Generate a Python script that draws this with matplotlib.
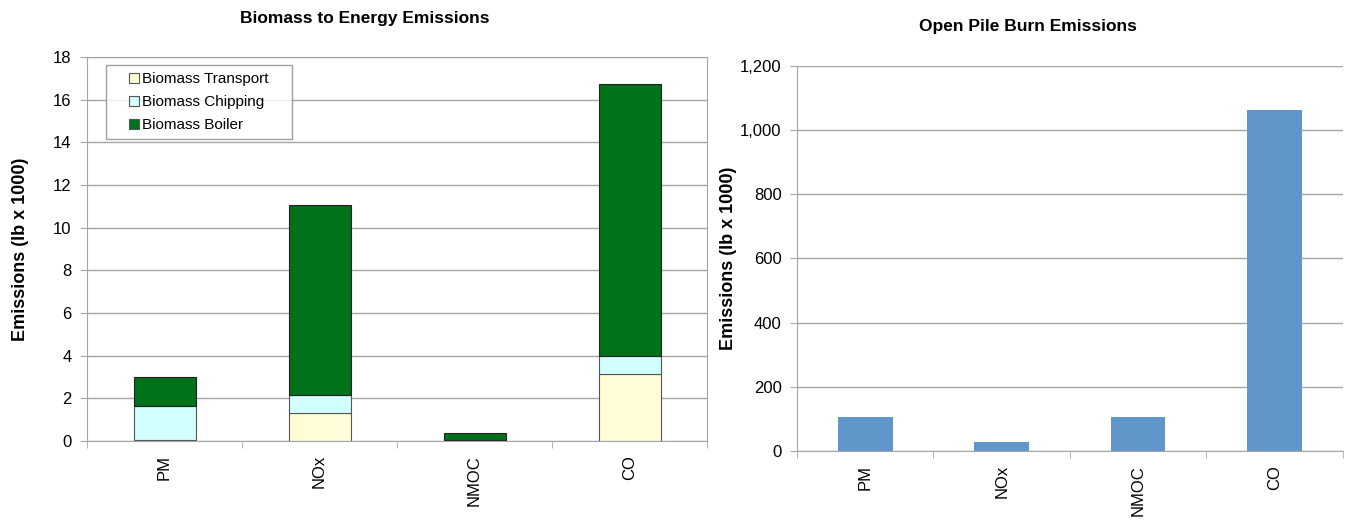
import matplotlib
matplotlib.use("Agg")
import matplotlib.pyplot as plt
import matplotlib.ticker as mticker
from matplotlib.lines import Line2D
import numpy as np

plt.rcParams["font.family"] = ["Liberation Sans", "DejaVu Sans"]

# ── data ───────────────────────────────────────────
categories = ["PM", "NOx", "NMOC", "CO"]
transport = [0.03, 1.32, 0.02, 3.14]
chipping = [1.60, 0.83, 0.02, 0.86]
boiler = [1.36, 8.91, 0.35, 12.75]
open_burn = [106, 27, 106, 1062]
series_names = ["Biomass Transport", "Biomass Chipping", "Biomass Boiler"]

C_TRANSPORT = "#FFFDD8"
C_CHIPPING = "#D2FFFF"
C_BOILER = "#00721A"
C_OPEN = "#6196CA"
GRID = "#A6A6A6"

fig = plt.figure(figsize=(13.49, 5.21), dpi=100)
ax1 = fig.add_axes([0.0645, 0.1536, 0.4596, 0.737])
ax2 = fig.add_axes([0.5908, 0.1344, 0.4047, 0.739])

x = np.arange(len(categories))
W = 0.40


def style_axis(ax, ymax, step, label_x):
    ax.set_xlim(-0.5, len(categories) - 0.5)
    ax.set_ylim(0, ymax)
    ax.set_yticks(np.arange(0, ymax + step / 2, step))
    ax.yaxis.grid(True, color=GRID, linewidth=1.0)
    ax.set_axisbelow(True)
    ax.set_xticks(x)
    ax.set_xticklabels(categories, rotation=90, fontsize=12)
    ax.set_xticks(np.arange(-0.5, len(categories)), minor=True)
    ax.tick_params(axis="x", which="major", length=0, pad=10)
    ax.tick_params(axis="x", which="minor", length=5, color=GRID, direction="out")
    ax.tick_params(axis="y", length=5, color=GRID, labelsize=12, pad=6)
    for s in ax.spines.values():
        s.set_color(GRID)
    ax.set_ylabel("Emissions (lb x 1000)", fontsize=13, fontweight="bold")
    ax.yaxis.set_label_coords(label_x, 0.5)


# ── left: stacked biomass to energy ───────────────
b2 = np.array(transport) + np.array(chipping)
ax1.bar(x, transport, W, color=C_TRANSPORT, edgecolor="#555555", linewidth=0.8, zorder=2)
ax1.bar(x, chipping, W, bottom=transport, color=C_CHIPPING, edgecolor="#555555",
        linewidth=0.8, zorder=2)
ax1.bar(x, boiler, W, bottom=b2, color=C_BOILER, edgecolor="#222222",
        linewidth=0.8, zorder=2)
style_axis(ax1, 18, 2, -0.093)

handles = [Line2D([], [], linestyle="none", marker="s", markersize=6.5,
                  markerfacecolor=c, markeredgecolor="#555555", markeredgewidth=0.8)
           for c in (C_TRANSPORT, C_CHIPPING, C_BOILER)]
leg = ax1.legend(handles, series_names, loc="upper left",
                 bbox_to_anchor=(0.0306, 0.0, 0.30, 0.979), mode="expand",
                 borderaxespad=0, fontsize=11, frameon=True, fancybox=False,
                 edgecolor="#888888", handlelength=2.74, handletextpad=-0.81,
                 borderpad=0.45, labelspacing=0.6)
leg.get_frame().set_linewidth(1.0)

# ── right: open pile burn ─────────────────────────
ax2.bar(x, open_burn, W, color=C_OPEN, zorder=2)
style_axis(ax2, 1200, 200, -0.110)
ax2.yaxis.set_major_formatter(mticker.FuncFormatter(lambda v, _: f"{v:,.0f}"))
ax2.spines["top"].set_visible(False)
ax2.spines["right"].set_visible(False)

# titles are centred over the whole chart area, not just the plot box
fig.text(365 / 1349, 1 - 18 / 521, "Biomass to Energy Emissions", ha="center",
         va="center", fontsize=12.5, fontweight="bold")
fig.text(1028 / 1349, 1 - 27 / 521, "Open Pile Burn Emissions", ha="center",
         va="center", fontsize=12.5, fontweight="bold")

fig.savefig("out.png", dpi=100)
